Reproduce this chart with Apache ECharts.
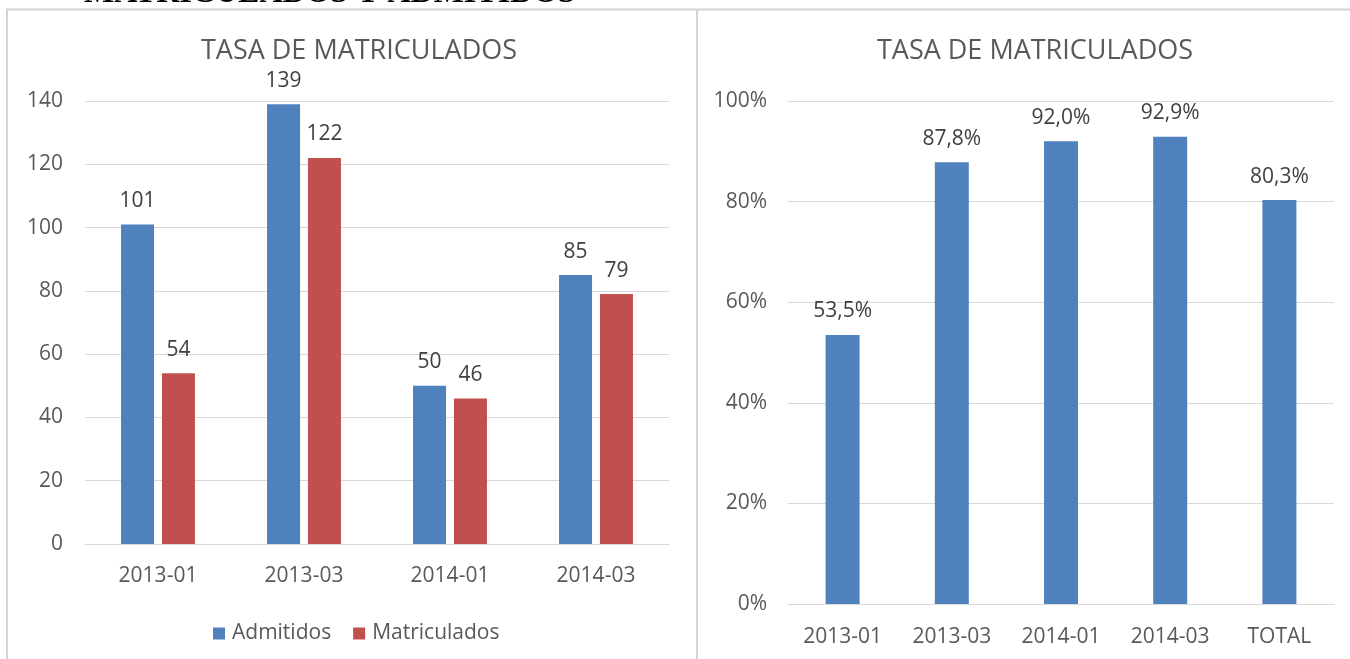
<!DOCTYPE html>
<html>
<head>
<meta charset="utf-8">
<script src="https://cdn.jsdelivr.net/npm/echarts@6/dist/echarts.min.js"></script>
<style>
  html, body { margin: 0; padding: 0; background: #fff; }
  #chart { width: 1350px; height: 659px; }
</style>
</head>
<body>
<div id="chart"></div>
<script>
// datos
const periodos = ['2013-01', '2013-03', '2014-01', '2014-03'];
const admitidos = [101, 139, 50, 85];
const matriculados = [54, 122, 46, 79];
const periodosTasa = ['2013-01', '2013-03', '2014-01', '2014-03', 'TOTAL'];
const tasa = [53.5, 87.8, 92.0, 92.9, 80.3];

const FONT = 'Open Sans';
const GRIS = '#595959';
const LINEA = '#D9D9D9';
const FS = 21;

const myChart = echarts.init(document.getElementById('chart'));

const labelStyle = {
  show: true,
  position: 'top',
  distance: 13,
  color: '#404040',
  fontFamily: FONT,
  fontSize: FS
};

const tituloStyle = { fontFamily: FONT, fontSize: 27, fontWeight: 'normal', color: GRIS };

const options = {
  animation: false,
  textStyle: { fontFamily: FONT },
  title: [
    { text: 'TASA DE MATRICULADOS', left: 354, top: 33, textAlign: 'center', textStyle: tituloStyle },
    { text: 'TASA DE MATRICULADOS', left: 1030, top: 33, textAlign: 'center', textStyle: tituloStyle }
  ],
  legend: {
    data: ['Admitidos', 'Matriculados'],
    left: 208, top: 618,
    itemWidth: 12, itemHeight: 12, itemGap: 22,
    icon: 'rect',
    textStyle: { fontFamily: FONT, fontSize: FS, color: GRIS, padding: [0, 0, 0, 2] }
  },
  grid: [
    { left: 85, right: 681, top: 101, bottom: 115 },
    { left: 788, right: 16, top: 101, bottom: 55 }
  ],
  xAxis: [
    { type: 'category', gridIndex: 0, data: periodos,
      axisLine: { lineStyle: { color: LINEA, width: 1 } },
      axisTick: { show: false },
      axisLabel: { color: GRIS, fontFamily: FONT, fontSize: FS, margin: 22 } },
    { type: 'category', gridIndex: 1, data: periodosTasa,
      axisLine: { lineStyle: { color: LINEA, width: 1 } },
      axisTick: { show: false },
      axisLabel: { color: GRIS, fontFamily: FONT, fontSize: FS, margin: 23 } }
  ],
  yAxis: [
    { type: 'value', gridIndex: 0, min: 0, max: 140, interval: 20,
      axisLine: { show: false }, axisTick: { show: false },
      splitLine: { lineStyle: { color: LINEA, width: 1 } },
      axisLabel: { color: GRIS, fontFamily: FONT, fontSize: FS, margin: 22 } },
    { type: 'value', gridIndex: 1, min: 0, max: 100, interval: 20,
      axisLine: { show: false }, axisTick: { show: false },
      splitLine: { lineStyle: { color: LINEA, width: 1 } },
      axisLabel: { color: GRIS, fontFamily: FONT, fontSize: FS, margin: 21,
        formatter: v => v + '%' } }
  ],
  series: [
    { name: 'Admitidos', type: 'bar', xAxisIndex: 0, yAxisIndex: 0,
      data: admitidos, barWidth: 33, barGap: '24%',
      itemStyle: { color: '#4F81BD' }, label: labelStyle },
    { name: 'Matriculados', type: 'bar', xAxisIndex: 0, yAxisIndex: 0,
      data: matriculados, barWidth: 33, barGap: '24%',
      itemStyle: { color: '#C0504D' }, label: labelStyle },
    { name: 'Tasa', type: 'bar', xAxisIndex: 1, yAxisIndex: 1,
      data: tasa, barWidth: 34,
      itemStyle: { color: '#4F81BD' },
      label: Object.assign({}, labelStyle, {
        formatter: p => p.value.toFixed(1).replace('.', ',') + '%'
      }) }
  ],
  graphic: [
    // encabezado recortado del documento
    { type: 'text', x: 84, y: 10,
      style: { text: 'MATRICULADOS Y ADMITIDOS', fill: '#000', verticalAlign: 'bottom',
        font: 'bold 32px "Liberation Serif"' } },
    // marcos
    { type: 'line', shape: { x1: 6, y1: 9.5, x2: 1350, y2: 9.5 },
      style: { stroke: '#D4D4D4', lineWidth: 2 } },
    { type: 'line', shape: { x1: 7, y1: 9, x2: 7, y2: 659 },
      style: { stroke: '#D4D4D4', lineWidth: 2 } },
    { type: 'line', shape: { x1: 697, y1: 9, x2: 697, y2: 659 },
      style: { stroke: '#D4D4D4', lineWidth: 2 } }
  ]
};

myChart.setOption(options);
</script>
</body>
</html>
